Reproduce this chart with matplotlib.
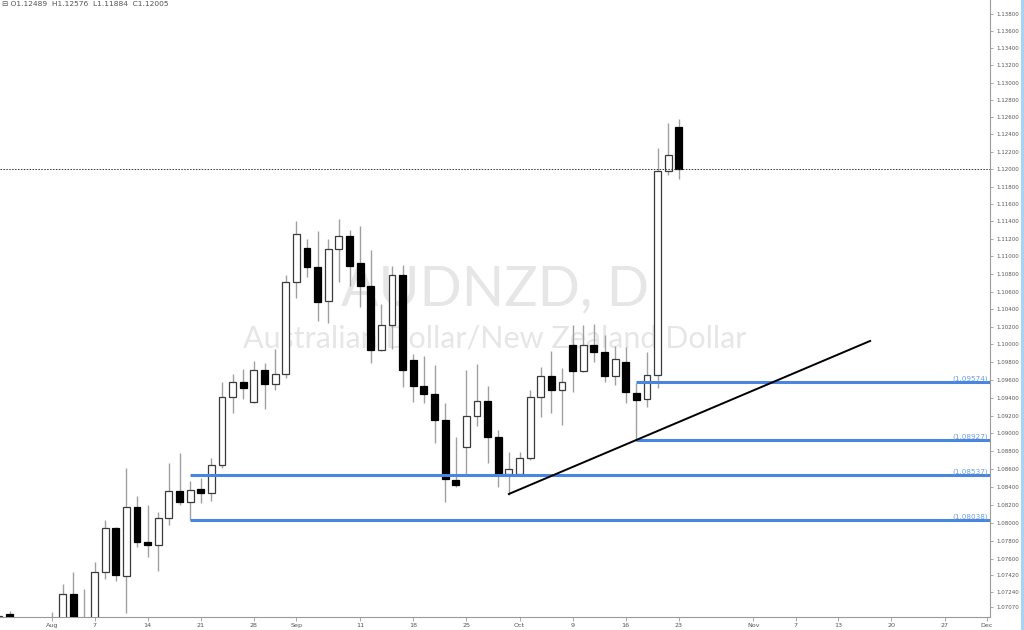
import matplotlib
matplotlib.use("Agg")
import matplotlib.pyplot as plt
from matplotlib.lines import Line2D
from matplotlib.ticker import FixedLocator, NullLocator
import numpy as np
import pandas as pd

# ---------------- data ----------------
dates = ["2017-07-25", "2017-07-26", "2017-08-01", "2017-08-02", "2017-08-03", "2017-08-04",
         "2017-08-07", "2017-08-08", "2017-08-09", "2017-08-10", "2017-08-11",
         "2017-08-14", "2017-08-15", "2017-08-16", "2017-08-17", "2017-08-18",
         "2017-08-21", "2017-08-22", "2017-08-23", "2017-08-24", "2017-08-25",
         "2017-08-28", "2017-08-29", "2017-08-30", "2017-08-31", "2017-09-01",
         "2017-09-04", "2017-09-05", "2017-09-06", "2017-09-07", "2017-09-08",
         "2017-09-11", "2017-09-12", "2017-09-13", "2017-09-14", "2017-09-15",
         "2017-09-18", "2017-09-19", "2017-09-20", "2017-09-21", "2017-09-22",
         "2017-09-25", "2017-09-26", "2017-09-27", "2017-09-28", "2017-09-29",
         "2017-10-02", "2017-10-03", "2017-10-04", "2017-10-05", "2017-10-06",
         "2017-10-09", "2017-10-10", "2017-10-11", "2017-10-12", "2017-10-13",
         "2017-10-16", "2017-10-17", "2017-10-18", "2017-10-19", "2017-10-20",
         "2017-10-23"]
opens = [1.0686, 1.0700, 1.0670, 1.0690, 1.07216, 1.0689,
         1.0694, 1.07458, 1.07945, 1.07414, 1.08178,
         1.07790, 1.07757, 1.08056, 1.08356, 1.08234,
         1.08378, 1.08334, 1.08646, 1.09408, 1.09577,
         1.09352, 1.09713, 1.09555, 1.09668, 1.10708,
         1.11096, 1.10879, 1.10493, 1.11085, 1.11233,
         1.10925, 1.10663, 1.09938, 1.10220, 1.10788,
         1.09825, 1.09532, 1.09442, 1.09150, 1.08479,
         1.08847, 1.09195, 1.09363, 1.08960, 1.08546,
         1.08546, 1.08724, 1.09408, 1.09645, 1.09487,
         1.09994, 1.09701, 1.09994, 1.09915, 1.09645,
         1.09803, 1.09453, 1.09385, 1.09656, 1.11978,
         1.12489]
highs = [1.0701, 1.0703, 1.0702, 1.07326, 1.07458, 1.07271,
         1.07569, 1.08034, 1.07960, 1.08613, 1.08301,
         1.08201, 1.08123, 1.08669, 1.08780, 1.08468,
         1.08501, 1.08724, 1.09577, 1.09668, 1.09724,
         1.09814, 1.09791, 1.09949, 1.10788, 1.11404,
         1.11198, 1.11290, 1.11198, 1.11427, 1.11301,
         1.11347, 1.11073, 1.10459, 1.10891, 1.10902,
         1.09893, 1.09870, 1.09769, 1.09341, 1.08960,
         1.09713, 1.09780, 1.09532, 1.09038, 1.08791,
         1.08791, 1.09487, 1.09746, 1.09927, 1.09735,
         1.10220, 1.10220, 1.10232, 1.10107, 1.09983,
         1.09971, 1.09566, 1.09915, 1.12244, 1.12532,
         1.12576]
lows = [1.0675, 1.0680, 1.0660, 1.0682, 1.0685, 1.0680,
        1.0688, 1.07381, 1.07359, 1.07007, 1.07735,
        1.07624, 1.07469, 1.07979, 1.08201, 1.08038,
        1.08223, 1.08245, 1.08613, 1.09228, 1.09385,
        1.09340, 1.09273, 1.09487, 1.09623, 1.10527,
        1.10765, 1.10266, 1.10243, 1.10708, 1.10663,
        1.10425, 1.09791, 1.09927, 1.09949, 1.09521,
        1.09352, 1.09341, 1.08892, 1.08234, 1.08401,
        1.08535, 1.09083, 1.08669, 1.08401, 1.08312,
        1.08524, 1.08702, 1.09183, 1.09228, 1.09094,
        1.09465, 1.09690, 1.09803, 1.09577, 1.09543,
        1.09341, 1.08927, 1.09296, 1.09510, 1.11932,
        1.11884]
closes = [1.0697, 1.0688, 1.0690, 1.07216, 1.0690, 1.0694,
          1.07458, 1.07945, 1.07425, 1.08178, 1.07790,
          1.07757, 1.08056, 1.08356, 1.08234, 1.08367,
          1.08334, 1.08646, 1.09408, 1.09577, 1.09510,
          1.09713, 1.09555, 1.09668, 1.10708, 1.11256,
          1.10879, 1.10481, 1.11085, 1.11233, 1.10891,
          1.10663, 1.09938, 1.10220, 1.10788, 1.09713,
          1.09532, 1.09442, 1.09150, 1.08490, 1.08423,
          1.09195, 1.09363, 1.08960, 1.08535, 1.08602,
          1.08724, 1.09408, 1.09645, 1.09487, 1.09577,
          1.09701, 1.09994, 1.09915, 1.09645, 1.09836,
          1.09465, 1.09374, 1.09656, 1.11978, 1.12163,
          1.12005]

# horizontal support levels
level_values = [1.09574, 1.08927, 1.08537, 1.08038]
level_starts = ["2017-10-17", "2017-10-17", "2017-08-18", "2017-08-18"]
# trend line
trend_dates = ["2017-09-29", "2017-11-16"]
trend_prices = [1.08323, 1.10040]
last_close = 1.12005

y_ticks = [1.138, 1.136, 1.134, 1.132, 1.130, 1.128, 1.126, 1.124, 1.122, 1.120,
           1.118, 1.116, 1.114, 1.112, 1.110, 1.108, 1.106, 1.104, 1.102, 1.100,
           1.098, 1.096, 1.094, 1.092, 1.090, 1.088, 1.086, 1.084, 1.082, 1.080,
           1.078, 1.076, 1.0742, 1.0724, 1.0707]
x_tick_dates = ["2017-08-01", "2017-08-07", "2017-08-14", "2017-08-21", "2017-08-28",
                "2017-09-01", "2017-09-11", "2017-09-18", "2017-09-25", "2017-10-02",
                "2017-10-09", "2017-10-16", "2017-10-23", "2017-11-01", "2017-11-07",
                "2017-11-13", "2017-11-20", "2017-11-27", "2017-12-01"]
x_tick_labels = ["Aug", "7", "14", "21", "28", "Sep", "11", "18", "25", "Oct",
                 "9", "16", "23", "Nov", "7", "13", "20", "27", "Dec"]

header = "⊟ O1.12489  H1.12576  L1.11884  C1.12005"
title_big = "AUDNZD, D"
title_small = "Australian Dollar/New Zealand Dollar"

# ---------------- trading-day index ----------------
days = pd.bdate_range("2017-07-24", "2017-12-01")
pos = {d.strftime("%Y-%m-%d"): i for i, d in enumerate(days)}

def xi(d):
    return pos[d]

fig = plt.figure(figsize=(10.24, 6.30), dpi=100)
ax = fig.add_axes([0, 13 / 630, 990 / 1024, 617 / 630])
ax.set_yscale("log")
ax.set_ylim(1.06962, 1.13964)
x_left = xi("2017-08-01") - 52 / 10.625
x_right = xi("2017-08-01") + 938 / 10.625
ax.set_xlim(x_left, x_right)

# watermark
ax.text(0.5, 0.53, title_big, transform=ax.transAxes, ha="center", va="center",
        fontsize=40, color="#e6e6e6", family="Lato", zorder=0)
ax.text(0.5, 0.452, title_small, transform=ax.transAxes, ha="center", va="center",
        fontsize=22, color="#e6e6e6", family="Lato", zorder=0)

# candles
xs = np.array([xi(d) for d in dates])
o = np.array(opens); h = np.array(highs); l = np.array(lows); c = np.array(closes)
ax.vlines(xs, l, h, color="#a0a0a0", lw=1.0, zorder=2)
up = c >= o
ax.bar(xs[up], (c - o)[up], bottom=o[up], width=0.64, facecolor="white",
       edgecolor="#3a3a3a", linewidth=0.9, zorder=3)
ax.bar(xs[~up], (o - c)[~up], bottom=c[~up], width=0.64, facecolor="black",
       edgecolor="black", linewidth=0.9, zorder=3)

# support levels
for v, s in zip(level_values, level_starts):
    ax.hlines(v, xi(s), x_right, color="#4a86e0", lw=2.2, zorder=4)
    ax.text(x_right - 0.2, v, f"({v:.5f})", ha="right", va="bottom",
            fontsize=5.2, color="#6a9fe0", zorder=5)

# trend line
ax.plot([xi(d) for d in trend_dates], trend_prices, color="black", lw=1.4, zorder=4)

# last price dotted line
ax.axhline(last_close, color="#333333", lw=0.7, ls=(0, (1.5, 1.5)), zorder=4)

# axes styling
for s in ["left", "top"]:
    ax.spines[s].set_visible(False)
ax.spines["right"].set_color("#9a9a9a")
ax.spines["bottom"].set_color("#9a9a9a")
ax.yaxis.tick_right()
ax.yaxis.set_major_locator(FixedLocator(y_ticks))
ax.yaxis.set_minor_locator(NullLocator())
ax.set_yticklabels([f"{t:.5f}" for t in y_ticks])
ax.tick_params(axis="y", which="major", labelsize=4.0, colors="#9a9a9a",
               labelcolor="#555555", length=2.5, width=0.6, pad=2)
ax.set_xticks([xi(d) for d in x_tick_dates])
ax.set_xticklabels(x_tick_labels)
ax.tick_params(axis="x", labelsize=4.6, colors="#9a9a9a", labelcolor="#555555",
               length=3, width=0.6, pad=1.5)

# header
fig.text(2 / 1024, 1 - 4 / 630, header, ha="left", va="center", fontsize=5.4,
         color="#555555", family=["DejaVu Sans"])

# right edge bar
fig.add_artist(Line2D([1022 / 1024, 1022 / 1024], [0, 1], color="#a9d3f2", lw=2.2))

fig.savefig("out.png", dpi=100, facecolor="white")
